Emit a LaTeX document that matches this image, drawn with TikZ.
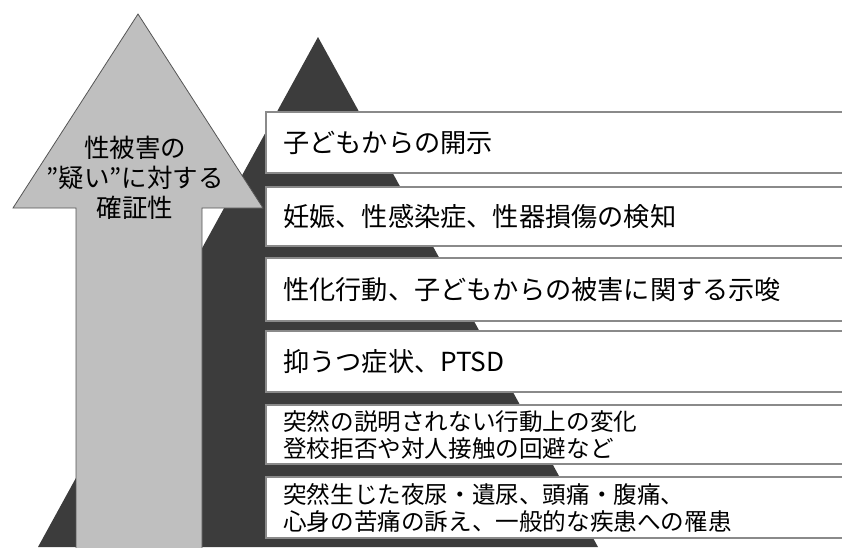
\documentclass[tikz,border=0pt]{standalone}
\usepackage{fontspec}
\setmainfont{Noto Sans CJK JP}
\begin{document}
\begin{tikzpicture}[x=1pt,y=-1pt,
  itembox/.style={draw=boxgray,line width=1.6pt,fill=white},
  itemtext/.style={anchor=west,inner sep=0pt,font=\fontsize{26.2}{30}\selectfont,text=black},
  itemtwo/.style={anchor=west,inner sep=0pt,align=left,font=\fontsize{23.6}{27}\selectfont,text=black},
  arrowtext/.style={align=center,inner sep=0pt,font=\fontsize{25.5}{30}\selectfont,text=black}]
\definecolor{darktri}{HTML}{3C3C3C}
\definecolor{arrowgray}{HTML}{BFBFBF}
\definecolor{boxgray}{HTML}{8A8A8A}
\definecolor{edgegray}{HTML}{555555}
\useasboundingbox (0,0) rectangle (842,547);
\clip (0,0) rectangle (842,547);
% dark pyramid
\fill[darktri] (318,37) -- (598,547) -- (38,547) -- cycle;
% grey arrow
\draw[edgegray,line width=0.8pt,fill=arrowgray] (138,14) -- (263,208) -- (202,208) -- (202,560) -- (76,560) -- (76,208) -- (13,208) -- cycle;
\node[arrowtext] (arrowlabel) at (135,178) {性被害の\\”疑い”に対する\\確証性};
% boxes
\draw[itembox] (266,112) rectangle (850,173);
\draw[itembox] (266,187) rectangle (850,246);
\draw[itembox] (266,258) rectangle (850,321);
\draw[itembox] (266,331) rectangle (850,392);
\draw[itembox] (266,405) rectangle (850,464);
\draw[itembox] (266,477) rectangle (850,538);
\node[itemtext] (t1) at (283,142.5) {子どもからの開示};
\node[itemtext] (t2) at (283,216.5) {妊娠、性感染症、性器損傷の検知};
\node[itemtext] (t3) at (283,289.5) {性化行動、子どもからの被害に関する示唆};
\node[itemtext] (t4) at (283,361.5) {抑うつ症状、PTSD};
\node[itemtwo] (t5) at (283,434.5) {突然の説明されない行動上の変化\\登校拒否や対人接触の回避など};
\node[itemtwo] (t6) at (283,507.5) {突然生じた夜尿・遺尿、頭痛・腹痛、\\心身の苦痛の訴え、一般的な疾患への罹患};
\end{tikzpicture}
\end{document}
